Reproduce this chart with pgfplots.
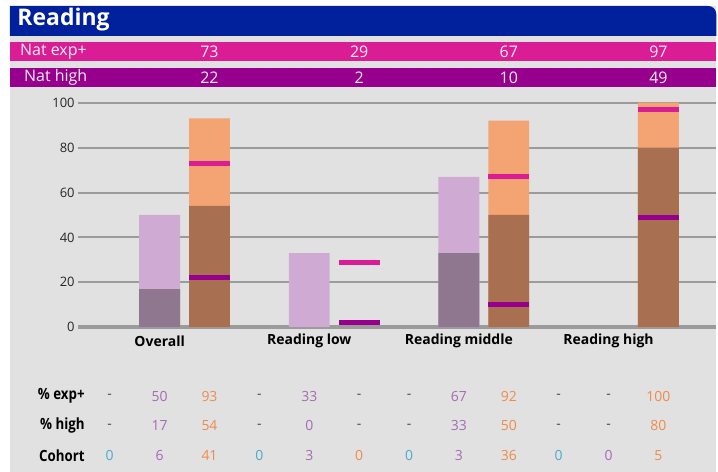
\documentclass[border=0pt]{standalone}
\usepackage{pgfplots}
\pgfplotsset{compat=1.18}
\usepackage{fontspec}
\setmainfont{Open Sans}
\newfontfamily\condfont[FakeStretch=0.86]{Open Sans}

\definecolor{bggray}{HTML}{E1E1E1}
\definecolor{titleblue}{HTML}{00209C}
\definecolor{natpink}{HTML}{DA1C95}
\definecolor{natpurple}{HTML}{96008C}
\definecolor{lpurple}{HTML}{CFABD3}
\definecolor{dpurple}{HTML}{8E778F}
\definecolor{lorange}{HTML}{F4A373}
\definecolor{dorange}{HTML}{A87050}
\definecolor{gridgray}{HTML}{9B9B9B}
\definecolor{tc}{HTML}{4BACC6}
\definecolor{tp}{HTML}{A56BB2}
\definecolor{to}{HTML}{F08A4B}
\definecolor{td}{HTML}{444444}

\begin{document}
\begin{tikzpicture}[x=1pt,y=1pt]
% page and panel
\fill[white] (0,0) rectangle (718,-473);
\fill[bggray] (10,-6) rectangle (718,-473);
\fill[titleblue] (10,-36) -- (10,-6) -- (710,-6) arc[start angle=90,end angle=0,radius=8] -- (718,-36) -- cycle;
\node[anchor=west,text=white,font=\bfseries\fontsize{23}{26}\selectfont] at (14,-20) {Reading};

% national strips
\fill[natpink] (10,-42) rectangle (718,-61);
\fill[natpurple] (10,-68) rectangle (718,-87);
\begin{scope}[font=\fontsize{16}{18}\selectfont, text=white!94!black]
\node[anchor=west,inner sep=0pt] at (20,-51.5) {Nat exp+};
\node[anchor=west,inner sep=0pt] at (24,-77.5) {Nat high};
\foreach \v [count=\i] in {73,29,67,97}
  \node at ({60+150*\i},-51.5) {\v};
\foreach \v [count=\i] in {22,2,10,49}
  \node at ({60+150*\i},-77.5) {\v};
\end{scope}

\begin{axis}[
  at={(78pt,-328pt)}, anchor=south west,
  scale only axis,
  width=640pt, height=225pt,
  xmin=0.36, xmax=13.16,
  ymin=0, ymax=100,
  clip=false,
  axis line style={draw=none},
  xtick=\empty,
  ytick={20,40,60,80,100},
  extra y ticks={0},
  extra y tick style={grid style={line width=3.5pt}},
  major tick length=0pt,
  ymajorgrids,
  grid style={draw=gridgray, line width=2pt},
  yticklabel style={font=\fontsize{13}{15}\selectfont, text=black!85, inner sep=0pt, xshift=-3pt},
  /pgf/number format/assume math mode=true,
]
\addplot[ybar, bar width=0.82, bar shift=0pt, fill=lpurple, draw=none]
  coordinates {(2,50) (5,33) (8,67)};
\addplot[ybar, bar width=0.82, bar shift=0pt, fill=dpurple, draw=none]
  coordinates {(2,17) (5,0) (8,33)};
\addplot[ybar, bar width=0.82, bar shift=0pt, fill=lorange, draw=none]
  coordinates {(3,93) (9,92) (12,100)};
\addplot[ybar, bar width=0.82, bar shift=0pt, fill=dorange, draw=none]
  coordinates {(3,54) (9,50) (12,80)};
\addplot[only marks, mark=-, mark size=20.5pt, mark options={line width=5pt, draw=natpink}]
  coordinates {(3,73) (6,29) (9,67) (12,97)};
\addplot[only marks, mark=-, mark size=20.5pt, mark options={line width=5pt, draw=natpurple}]
  coordinates {(3,22) (6,2) (9,10) (12,49)};
\end{axis}

% category labels
\foreach \t [count=\i] in {Overall,Reading low,Reading middle,Reading high}
  \node[font=\bfseries\fontsize{14}{16}\selectfont] at ({10+150*\i},-342) {\t};

% table below
\begin{scope}[font=\fontsize{14}{16}\selectfont]
\begin{scope}[font=\condfont\bfseries\fontsize{15.5}{17}\selectfont]
\node[anchor=east,inner sep=0pt] at (85,-397) {\% exp+};
\node[anchor=east,inner sep=0pt] at (85,-427) {\% high};
\node[anchor=east,inner sep=0pt] at (85,-457) {Cohort};
\end{scope}
\foreach \c/\v [count=\i] in {td/-,tp/50,to/93,td/-,tp/33,td/-,td/-,tp/67,to/92,td/-,td/-,to/100}
  \node[text=\c] at ({60+50*\i},-397) {\v};
\foreach \c/\v [count=\i] in {td/-,tp/17,to/54,td/-,tp/0,td/-,td/-,tp/33,to/50,td/-,td/-,to/80}
  \node[text=\c] at ({60+50*\i},-427) {\v};
\foreach \c/\v [count=\i] in {tc/0,tp/6,to/41,tc/0,tp/3,to/0,tc/0,tp/3,to/36,tc/0,tp/0,to/5}
  \node[text=\c] at ({60+50*\i},-457) {\v};
\end{scope}
\end{tikzpicture}
\end{document}
